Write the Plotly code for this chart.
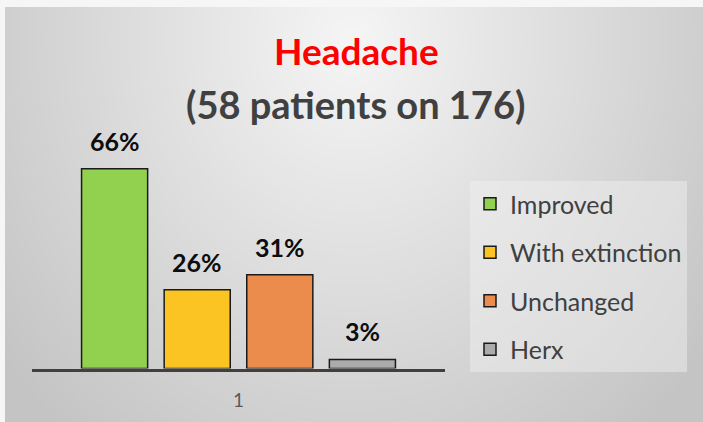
import numpy as np
import plotly.graph_objects as go

# ---- data ----
categories = ["1"]
series_names = ["Improved", "With extinction", "Unchanged", "Herx"]
series_values = [66, 26, 31, 3]
series_colors = ["#92d050", "#fbc423", "#eb8b4c", "#ababab"]

W, H = 703, 422
BARGAP = 0.2
GROUPGAP = 0.2

fig = go.Figure()

# soft radial grey backdrop drawn as a smooth heatmap behind the chart
gx = np.linspace(0, 1, 60)
gy = np.linspace(0, 1, 50)
X, Y = np.meshgrid(gx, gy)
px_x = 5 + X * (W - 5)
px_y = H - Y * (H - 7)
d = np.sqrt(((px_x - 352) / 420) ** 2 + ((px_y - 40) / 480) ** 2)
shade = np.clip(245 - 46 * np.clip(d, 0, 1.2), 196, 245)
fig.add_trace(go.Heatmap(
    x=gx, y=gy, z=shade, zmin=0, zmax=255,
    colorscale=[[0, "rgb(0,0,0)"], [1, "rgb(255,255,255)"]],
    zsmooth="best", showscale=False, hoverinfo="skip",
    xaxis="x", yaxis="y", showlegend=False,
))

positions = list(range(len(categories)))
for i, (name, val, col) in enumerate(zip(series_names, series_values, series_colors)):
    fig.add_trace(go.Bar(
        x=positions, y=[val], name=name,
        marker=dict(color=col, line=dict(color="#1a1a1a", width=1.5)),
        xaxis="x2", yaxis="y2", legendgroup=name,
    ))

# value labels above each bar of the group
n = len(series_names)
slot = (1 - BARGAP) / n
for i, val in enumerate(series_values):
    fig.add_annotation(
        x=positions[0] + (i - (n - 1) / 2) * slot, y=val,
        xref="x2", yref="y2", text=f"<b>{val}%</b>", showarrow=False,
        yanchor="bottom", yshift=11,
        font=dict(family="Lato", size=25, color="#0d0d0d"),
    )

fig.add_annotation(x=356 / W, y=1 - 50 / H, xref="paper", yref="paper",
                   text="<b>Headache</b>", showarrow=False, yanchor="middle",
                   font=dict(family="Lato", size=37, color="#ff0000"))
fig.add_annotation(x=355 / W, y=1 - 104 / H, xref="paper", yref="paper",
                   text="<b>(58 patients on 176)</b>", showarrow=False, yanchor="middle",
                   font=dict(family="Lato", size=38, color="#404040"))

fig.update_layout(
    width=W, height=H,
    margin=dict(l=0, r=0, t=0, b=0),
    paper_bgcolor="#f6f6f6", plot_bgcolor="rgba(0,0,0,0)",
    barmode="group", bargap=BARGAP, bargroupgap=GROUPGAP,
    xaxis=dict(domain=[5 / W, 1], range=[0, 1], visible=False, fixedrange=True),
    yaxis=dict(domain=[0, 1 - 7 / H], range=[0, 1], visible=False, fixedrange=True),
    xaxis2=dict(domain=[32 / W, 445 / W], anchor="y2", type="linear",
                range=[-0.5, 0.5], tickvals=positions, ticktext=categories,
                showline=True, linecolor="#404040", linewidth=3,
                showgrid=False, zeroline=False, ticks="",
                ticklabelstandoff=13,
                tickfont=dict(family="Lato", size=19, color="#595959")),
    yaxis2=dict(domain=[1 - 368.5 / H, 1 - 126.5 / H], anchor="x2",
                range=[0, 80], visible=False),
    legend=dict(x=470 / W, y=1 - 181 / H, xanchor="left", yanchor="top",
                bgcolor="rgba(242,242,242,0.45)", traceorder="grouped",
                tracegroupgap=13, itemclick=False,
                font=dict(family="Lato", size=25, color="#404040")),
    showlegend=True,
)

fig.write_html("out.html")
